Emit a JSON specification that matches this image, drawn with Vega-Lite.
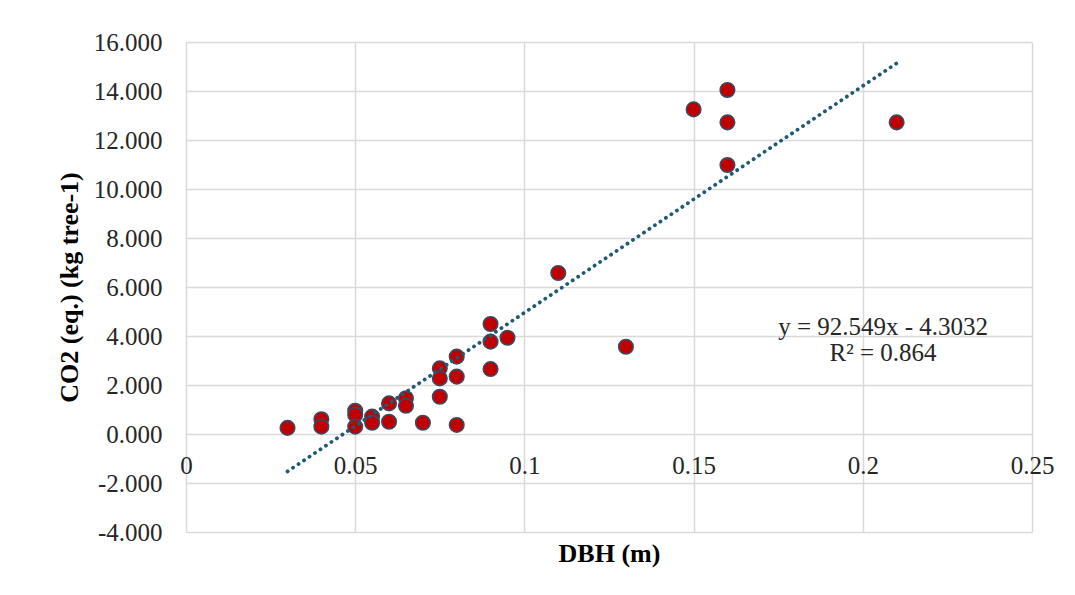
{
  "$schema": "https://vega.github.io/schema/vega-lite/v6.json",
  "autosize": {"type": "none"},
  "padding": {"left": 186, "top": 42, "right": 43, "bottom": 63},
  "width": 846,
  "height": 490,
  "background": "white",
  "config": {
    "font": "Liberation Serif",
    "view": {"stroke": null}
  },
  "datasets": {
    "points": [
      {"dbh": 0.03, "co2": 0.25},
      {"dbh": 0.04, "co2": 0.6},
      {"dbh": 0.04, "co2": 0.3},
      {"dbh": 0.05, "co2": 0.95},
      {"dbh": 0.05, "co2": 0.78},
      {"dbh": 0.05, "co2": 0.3},
      {"dbh": 0.055, "co2": 0.71},
      {"dbh": 0.055, "co2": 0.46},
      {"dbh": 0.06, "co2": 1.25},
      {"dbh": 0.06, "co2": 0.5},
      {"dbh": 0.065, "co2": 1.46},
      {"dbh": 0.065, "co2": 1.15},
      {"dbh": 0.07, "co2": 0.46},
      {"dbh": 0.075, "co2": 2.68},
      {"dbh": 0.075, "co2": 2.27},
      {"dbh": 0.075, "co2": 1.52},
      {"dbh": 0.08, "co2": 3.16},
      {"dbh": 0.08, "co2": 2.34},
      {"dbh": 0.08, "co2": 0.37},
      {"dbh": 0.09, "co2": 4.49},
      {"dbh": 0.09, "co2": 3.77},
      {"dbh": 0.09, "co2": 2.65},
      {"dbh": 0.095, "co2": 3.93},
      {"dbh": 0.11, "co2": 6.57},
      {"dbh": 0.13, "co2": 3.56},
      {"dbh": 0.15, "co2": 13.25},
      {"dbh": 0.16, "co2": 14.04},
      {"dbh": 0.16, "co2": 12.72},
      {"dbh": 0.16, "co2": 10.98},
      {"dbh": 0.21, "co2": 12.72}
    ],
    "trend": [
      {"dbh": 0.03, "co2": -1.5267},
      {"dbh": 0.21, "co2": 15.1321}
    ],
    "labels": [
      {"dbh": 0.206, "co2": 4.37, "text": "y = 92.549x - 4.3032"},
      {"dbh": 0.206, "co2": 3.3, "text": "R² = 0.864"}
    ]
  },
  "layer": [
    {
      "data": {"name": "points"},
      "mark": {"type": "point", "filled": true, "shape": "circle", "size": 210, "fill": "#c00000", "stroke": "#3a4a63", "strokeWidth": 1.6, "opacity": 1},
      "encoding": {
        "x": {
          "field": "dbh", "type": "quantitative",
          "scale": {"domain": [0, 0.25], "nice": false, "zero": false},
          "axis": {
            "values": [0, 0.05, 0.1, 0.15, 0.2, 0.25],
            "format": ".2~f",
            "offset": -98,
            "domain": false,
            "ticks": false,
            "tickSize": 0,
            "grid": true,
            "gridColor": "#d9d9d9",
            "gridWidth": 1.5,
            "labelFontSize": 25,
            "labelColor": "#262626",
            "labelBaseline": "middle",
            "labelPadding": 31,
            "labelFlush": false,
            "labelOverlap": false,
            "title": "DBH (m)",
            "titleFontSize": 26,
            "titleFontWeight": "bold",
            "titleColor": "#000000",
            "titleY": 119,
            "titleBaseline": "middle"
          }
        },
        "y": {
          "field": "co2", "type": "quantitative",
          "scale": {"domain": [-4, 16], "nice": false, "zero": false},
          "axis": {
            "values": [-4, -2, 0, 2, 4, 6, 8, 10, 12, 14, 16],
            "format": ".3f",
            "labelExpr": "replace(datum.label, '−', '-')",
            "domain": false,
            "ticks": false,
            "tickSize": 0,
            "grid": true,
            "gridColor": "#d9d9d9",
            "gridWidth": 1.5,
            "labelFontSize": 25,
            "labelColor": "#262626",
            "labelPadding": 24,
            "labelFlush": false,
            "labelOverlap": false,
            "title": "CO2 (eq.) (kg tree-1)",
            "titleFontSize": 26,
            "titleFontWeight": "bold",
            "titleColor": "#000000",
            "titlePadding": 11
          }
        }
      }
    },
    {
      "data": {"name": "trend"},
      "mark": {"type": "line", "color": "#1f5a72", "strokeWidth": 3.8, "strokeDash": [0.1, 6.5], "strokeCap": "round"},
      "encoding": {
        "x": {"field": "dbh", "type": "quantitative"},
        "y": {"field": "co2", "type": "quantitative"}
      }
    },
    {
      "data": {"name": "labels"},
      "mark": {"type": "text", "fontSize": 25, "color": "#262626", "align": "center", "baseline": "middle"},
      "encoding": {
        "x": {"field": "dbh", "type": "quantitative"},
        "y": {"field": "co2", "type": "quantitative"},
        "text": {"field": "text"}
      }
    }
  ]
}
